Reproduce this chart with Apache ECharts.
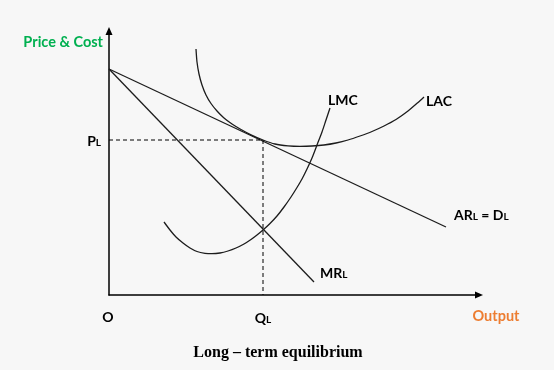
<!DOCTYPE html>
<html>
<head>
<meta charset="utf-8">
<script src="https://cdn.jsdelivr.net/npm/echarts@6/dist/echarts.min.js"></script>
<style>
  html, body { margin: 0; padding: 0; background: #f7f7f7; }
  #chart { width: 554px; height: 370px; }
</style>
</head>
<body>
<div id="chart"></div>
<script>
// ---- data (arbitrary output / price units) ----
const arLine  = [[0, 226], [337, 68]];          // AR_L = D_L
const mrLine  = [[0, 226], [205, 13]];          // MR_L
const lmcCurve = [[55, 73], [61, 65], [67, 58], [74, 52], [81, 47], [88, 43.5], [96, 41.7], [103, 41.3], [111, 42], [119, 44], [127, 47], [135, 51], [142, 55.5], [148, 60], [154, 65], [161, 71.5], [168, 79], [175, 88], [182, 98], [188, 107.5], [193, 116], [198, 126], [203, 137], [208, 150], [213, 163], [217, 175], [221, 187]];
const lacCurve = [[87, 246], [88, 233], [90, 221], [93, 210], [97, 200], [102, 191.5], [108, 184], [115, 177], [123, 171], [132, 165.5], [142, 160.2], [154, 155], [166, 151], [179, 149.2], [191, 148.7], [203, 149], [215, 150], [227, 152], [239, 155], [251, 159], [263, 163.5], [275, 169], [287, 175.5], [299, 184], [309, 192.5], [315, 198]];
const QL = 154;   // long-run equilibrium output
const PL = 155;   // long-run equilibrium price
const xMax = 367, yMax = 261;

const titleText = 'Long – term equilibrium';
const yName = 'Price & Cost';
const xName = 'Output';

const chart = echarts.init(document.getElementById('chart'), null, { renderer: 'canvas' });
const ink = '#1c1c1c';
const lblFont = 'Lato, "Open Sans", sans-serif';

function curve(name, data, smooth) {
  return {
    name, type: 'line', data, smooth: smooth ? 0.25 : false,
    showSymbol: false, silent: true,
    lineStyle: { color: ink, width: 1.3 }
  };
}

chart.setOption({
  backgroundColor: '#f7f7f7',
  animation: false,
  grid: { left: 109, right: 78, top: 34, bottom: 75 },
  xAxis: {
    type: 'value', min: 0, max: xMax,
    axisLine: { show: true, onZero: true, symbol: ['none', 'triangle'], symbolSize: [7, 8], symbolOffset: [0, 3],
      lineStyle: { color: '#000', width: 1.5 } },
    axisTick: { show: false }, axisLabel: { show: false }, splitLine: { show: false }
  },
  yAxis: {
    type: 'value', min: 0, max: yMax,
    axisLine: { show: true, onZero: true, symbol: ['none', 'triangle'], symbolSize: [7, 8], symbolOffset: [0, 3],
      lineStyle: { color: '#000', width: 1.5 } },
    axisTick: { show: false }, axisLabel: { show: false }, splitLine: { show: false }
  },
  series: [
    curve('AR', arLine, false),
    curve('MR', mrLine, false),
    curve('LMC', lmcCurve, true),
    curve('LAC', lacCurve, true),
    {
      name: 'guides', type: 'line', showSymbol: false, silent: true,
      data: [[0, PL], [QL, PL], [QL, 0]],
      lineStyle: { color: '#000', width: 1, type: [4, 3] }
    }
  ]
});

function px(p) { return chart.convertToPixel({ gridIndex: 0 }, p); }
const rich = {
  b: { fontFamily: lblFont, fontWeight: 'bold', fontSize: 14, lineHeight: 16, verticalAlign: 'bottom', fill: '#000' },
  s: { fontFamily: lblFont, fontWeight: 'bold', fontSize: 10, lineHeight: 14, verticalAlign: 'bottom', fill: '#000' }
};
function txt(pos, dx, dy, text, align, extra) {
  return {
    type: 'text', silent: true, x: pos[0] + dx, y: pos[1] + dy,
    style: Object.assign({
      text, align, verticalAlign: 'middle', rich,
      fontFamily: lblFont, fontWeight: 'bold', fontSize: 14, fill: '#000'
    }, extra || {})
  };
}

const origin = px([0, 0]);
const yTop = px([0, yMax]);
const xEnd = px([xMax, 0]);
const eq = px([QL, PL]);
const lmcEnd = px(lmcCurve[lmcCurve.length - 1]);
const lacEnd = px(lacCurve[lacCurve.length - 1]);
const arEnd = px(arLine[1]);
const mrEnd = px(mrLine[1]);

chart.setOption({
  graphic: [
    txt(yTop, -6, 8, yName, 'right', { fill: '#00b050', fontSize: 14.5 }),
    txt(origin, -1, 22, 'O', 'center'),
    txt([origin[0], eq[1]], -8, 0, '{b|P}{s|L}', 'right'),
    txt([eq[0], origin[1]], 0, 22, '{b|Q}{s|L}', 'center'),
    txt(xEnd, 20, 21, xName, 'center', { fill: '#ed7d31', fontSize: 14.5 }),
    txt(lmcEnd, -2, -8, 'LMC', 'left'),
    txt(lacEnd, 2, 4, 'LAC', 'left'),
    txt(arEnd, 8, -13, '{b|AR}{s|L}{b| = D}{s|L}', 'left'),
    txt(mrEnd, 6, -10, '{b|MR}{s|L}', 'left'),
    {
      type: 'text', silent: true, x: 278, y: 353,
      style: { text: titleText, align: 'center', verticalAlign: 'middle',
        fontFamily: '"Liberation Serif", "Times New Roman", serif', fontWeight: 'bold', fontSize: 16, fill: '#000' }
    }
  ]
});
</script>
</body>
</html>
